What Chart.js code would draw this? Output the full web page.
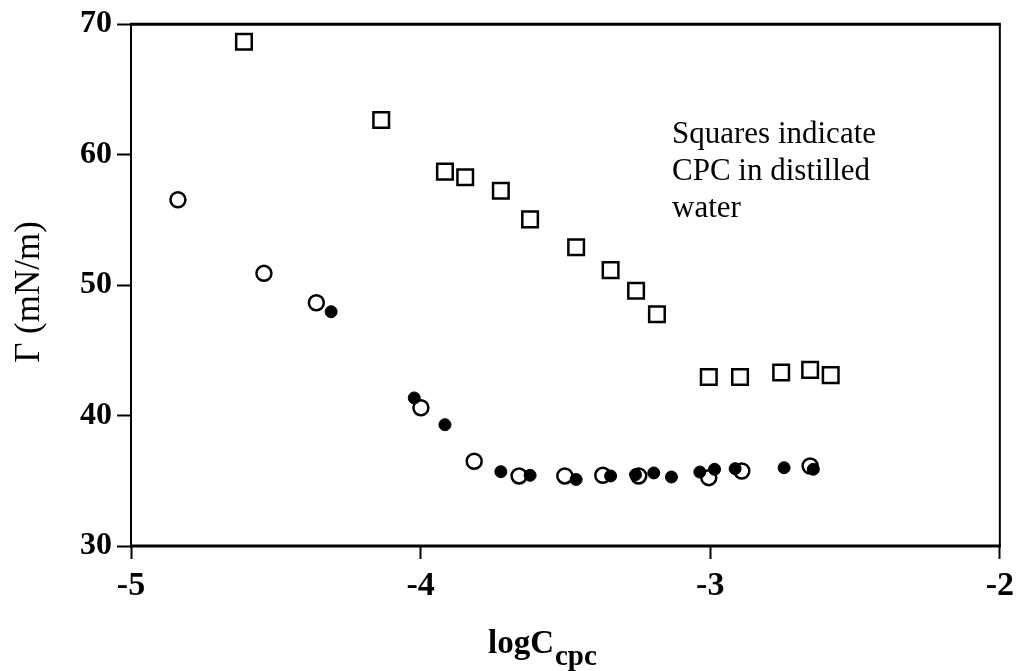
<!DOCTYPE html>
<html>
<head>
<meta charset="utf-8">
<script src="https://cdn.jsdelivr.net/npm/chart.js@4/dist/chart.umd.min.js"></script>
<style>
    html, body { margin: 0; padding: 0; background: #fff; }
    #wrap { width: 1021px; height: 671px; position: relative; }
</style>
</head>
<body>
<div id="wrap"><canvas id="chart"></canvas></div>
<script>
// values
const squaresX = [-4.61, -4.136, -3.916, -3.846, -3.723, -3.622, -3.463, -3.344, -3.256, -3.184, -3.005, -2.897, -2.755, -2.655, -2.584]
const squaresY = [68.65, 62.65, 58.7, 58.27, 57.23, 55.04, 52.9, 51.15, 49.57, 47.76, 42.95, 42.95, 43.3, 43.5, 43.1]
const openX    = [-4.838, -4.541, -4.36, -3.999, -3.815, -3.66, -3.502, -3.371, -3.247, -3.005, -2.891, -2.655]
const openY    = [56.54, 50.9, 48.65, 40.6, 36.5, 35.37, 35.37, 35.42, 35.37, 35.24, 35.75, 36.13]
const filledX  = [-4.309, -4.022, -3.916, -3.723, -3.622, -3.463, -3.344, -3.258, -3.195, -3.134, -3.036, -2.985, -2.914, -2.745, -2.644]
const filledY  = [47.96, 41.35, 39.3, 35.7, 35.42, 35.1, 35.37, 35.47, 35.6, 35.29, 35.67, 35.88, 35.93, 36.0, 35.88]
const xTicks   = [-5, -4, -3, -2]
const yTicks   = [30, 40, 50, 60, 70]
const noteLines = ['Squares indicate', 'CPC in distilled', 'water']

const SERIF = '"Liberation Serif", "Times New Roman", serif'
const toPoints = (xs, ys) => xs.map((x, i) => ({x, y: ys[i]}))

// frame, titles and the note
const decorPlugin = {
    id: 'decor',
    afterDraw: chart => {
        const {ctx, chartArea: a} = chart
        ctx.save()
        ctx.strokeStyle = '#000'
        ctx.lineWidth = 3
        ctx.beginPath()
        ctx.moveTo(a.left - 1, a.top); ctx.lineTo(a.right + 1, a.top)
        ctx.moveTo(a.left - 1, a.bottom); ctx.lineTo(a.right + 1, a.bottom)
        ctx.stroke()
        ctx.lineWidth = 2
        ctx.beginPath()
        ctx.moveTo(a.left, a.top); ctx.lineTo(a.left, a.bottom)
        ctx.moveTo(a.right, a.top); ctx.lineTo(a.right, a.bottom)
        ctx.stroke()

        ctx.fillStyle = '#000'
        ctx.textBaseline = 'alphabetic'
        ctx.textAlign = 'left'
        // x title with subscript
        ctx.font = `bold 33px ${SERIF}`
        const main = 'logC'
        ctx.fillText(main, 488, 653)
        const w = ctx.measureText(main).width
        ctx.font = `bold 29px ${SERIF}`
        ctx.fillText('cpc', 488 + w + 1, 665)

        // y title
        ctx.save()
        ctx.translate(39, 292)
        ctx.rotate(-Math.PI / 2)
        ctx.textAlign = 'center'
        ctx.font = `35px ${SERIF}`
        ctx.fillText('\u0393 (mN/m)', 0, 0)
        ctx.restore()

        // note
        ctx.font = `31px ${SERIF}`
        noteLines.forEach((line, i) => ctx.fillText(line, 672, 143 + i * 37))
        ctx.restore()
    }
}

const initChart = () => {
    const canvasEl = document.getElementById('chart')
    new Chart(canvasEl.getContext('2d'), {
        type: 'scatter',
        data: {
            datasets: [{
                label: 'filled',
                data: toPoints(filledX, filledY),
                pointStyle: 'circle',
                pointRadius: 6,
                backgroundColor: '#000',
                borderColor: '#000',
                borderWidth: 1
            }, {
                label: 'open',
                data: toPoints(openX, openY),
                pointStyle: 'circle',
                pointRadius: 7.5,
                backgroundColor: '#fff',
                borderColor: '#000',
                borderWidth: 2.5
            }, {
                label: 'squares',
                data: toPoints(squaresX, squaresY),
                pointStyle: 'rect',
                pointRadius: 11,
                backgroundColor: '#fff',
                borderColor: '#000',
                borderWidth: 2.5
            }]
        },
        options: {
            responsive: true,
            maintainAspectRatio: false,
            animation: false,
            layout: { padding: { top: 23, right: 18, left: 0, bottom: 0 } },
            plugins: {
                legend: { display: false },
                tooltip: { enabled: false }
            },
            scales: {
                x: {
                    type: 'linear',
                    min: -5,
                    max: -2,
                    afterFit: scale => { scale.height = 125 },
                    afterBuildTicks: scale => { scale.ticks = xTicks.map(value => ({value})) },
                    grid: {
                        drawOnChartArea: false,
                        drawTicks: true,
                        tickLength: 13,
                        tickWidth: 2,
                        tickColor: '#000'
                    },
                    border: { display: false },
                    ticks: {
                        color: '#000',
                        padding: 7,
                        font: { family: SERIF, size: 34, weight: 'bold' }
                    }
                },
                y: {
                    type: 'linear',
                    min: 30,
                    max: 70,
                    afterFit: scale => { scale.width = 131 },
                    afterBuildTicks: scale => { scale.ticks = yTicks.map(value => ({value})) },
                    grid: {
                        drawOnChartArea: false,
                        drawTicks: true,
                        tickLength: 14,
                        tickWidth: 2,
                        tickColor: '#000'
                    },
                    border: { display: false },
                    ticks: {
                        color: '#000',
                        padding: 5,
                        font: { family: SERIF, size: 32, weight: 'bold' }
                    }
                }
            }
        },
        plugins: [decorPlugin]
    })
}

document.addEventListener('DOMContentLoaded', initChart, false)
</script>
</body>
</html>
